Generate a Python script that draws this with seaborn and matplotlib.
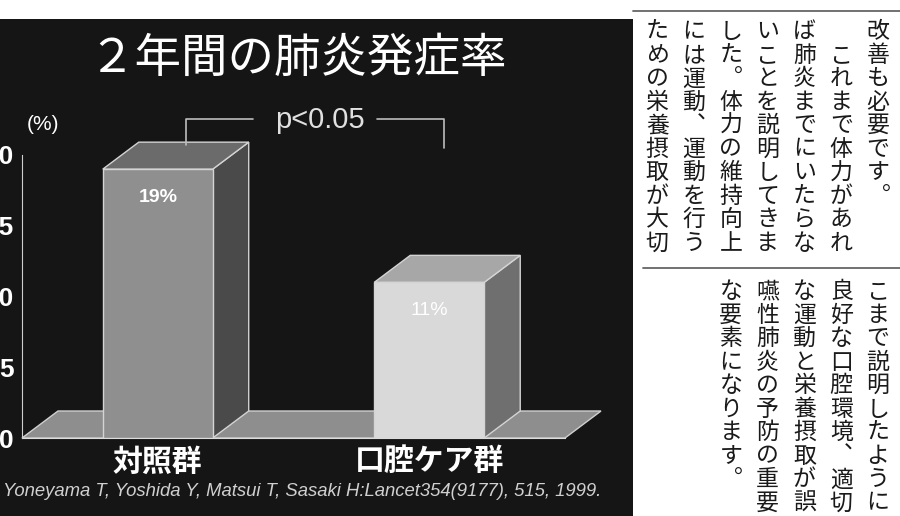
import matplotlib
matplotlib.use("Agg")
import matplotlib.pyplot as plt
from matplotlib.patches import Polygon, Rectangle
from matplotlib.lines import Line2D
import seaborn as sns
import pandas as pd

# chart data
groups = ["対照群", "口腔ケア群"]
rates = [19, 11]
rate_labels = ["19%", "11%"]
y_ticks = [0, 5, 10, 15, 20]
title = "２年間の肺炎発症率"
p_text = "p<0.05"
unit_text = "(%)"
citation = "Yoneyama T, Yoshida Y, Matsui T, Sasaki H:Lancet354(9177), 515, 1999."

# newspaper text beside the chart (vertical, right to left)
text_top = [
    "改善も必要です。",
    "　これまで体力があれ",
    "ば肺炎までにいたらな",
    "いことを説明してきま",
    "した。体力の維持向上",
    "には運動、運動を行う",
    "ための栄養摂取が大切",
]
text_bottom = [
    "こまで説明したように",
    "良好な口腔環境、適切",
    "な運動と栄養摂取が誤",
    "嚥性肺炎の予防の重要",
    "な要素になります。",
]

front_colors = ["#8f8f8f", "#d9d9d9"]
top_colors = ["#6b6b6b", "#a7a7a7"]
side_colors = ["#4a4a4a", "#6f6f6f"]
label_weights = ["bold", "normal"]

W, H = 900, 516
CJK = ["Noto Sans CJK JP", "DejaVu Sans"]
LAT = ["Liberation Sans", "DejaVu Sans"]
VERT = {"。": "︒", "、": "︑"}

sns.set_style("white")
plt.rcParams["font.family"] = LAT


def fx(x):
    return x / W


def fy(y):
    return 1 - y / H


fig = plt.figure(figsize=(W / 100, H / 100), dpi=100)
fig.patch.set_facecolor("white")

# dark slide panel
fig.add_artist(Rectangle((0, 0), fx(633), 1 - 19 / H, transform=fig.transFigure,
                         facecolor="#151515", edgecolor="none", zorder=0))

ax = fig.add_axes([fx(22), 78 / H, 543 / W, 283 / H])
ax.set_facecolor("none")

df = pd.DataFrame({"group": groups, "rate": rates})
sns.barplot(data=df, x="group", y="rate", hue="group", palette=front_colors,
            width=0.405, saturation=1, legend=False, ax=ax,
            edgecolor="#d4d4d4", linewidth=1)
ax.set_xlim(-0.5, 1.5)
ax.set_ylim(0, 20)
ax.set_xlabel("")
ax.set_ylabel("")

# depth of the 3d look, 36px right and 27px up
dx = 36 * 2.0 / 543
dy = 27 * 20.0 / 283

floor = Polygon([(-0.5, 0), (1.5, 0), (1.5 + dx, dy), (-0.5 + dx, dy)],
                closed=True, facecolor="#8e8e8e", edgecolor="#d0d0d0",
                linewidth=1, zorder=1, clip_on=False)
ax.add_patch(floor)

for i, p in enumerate(ax.patches[:len(rates)]):
    x0, w, h = p.get_x(), p.get_width(), p.get_height()
    p.set_zorder(3)
    side = Polygon([(x0 + w, 0), (x0 + w + dx, dy), (x0 + w + dx, h + dy), (x0 + w, h)],
                   closed=True, facecolor=side_colors[i], edgecolor="#d4d4d4",
                   linewidth=1, zorder=2, clip_on=False)
    top = Polygon([(x0, h), (x0 + w, h), (x0 + w + dx, h + dy), (x0 + dx, h + dy)],
                  closed=True, facecolor=top_colors[i], edgecolor="#d4d4d4",
                  linewidth=1, zorder=2, clip_on=False)
    ax.add_patch(side)
    ax.add_patch(top)
    ax.text(x0 + w / 2, h - 2.0, rate_labels[i], ha="center", va="center",
            color="white", fontsize=14, fontweight=label_weights[i], zorder=4)

for s in ["top", "right"]:
    ax.spines[s].set_visible(False)
ax.spines["left"].set_color("#cfcfcf")
ax.spines["bottom"].set_color("#dcdcdc")
ax.spines["left"].set_zorder(5)

ax.set_yticks(y_ticks)
ax.tick_params(axis="y", direction="in", length=5, color="#cfcfcf",
               labelcolor="white", labelsize=19, pad=6)
for lab in ax.get_yticklabels():
    lab.set_fontweight("bold")

ax.set_xticks(range(len(groups)))
ax.set_xticklabels(groups)
ax.tick_params(axis="x", length=0, pad=6, labelsize=21.5, labelcolor="white")
for lab in ax.get_xticklabels():
    lab.set_fontweight("bold")
    lab.set_family(CJK)
ax.set_xticks([-0.5, 0.5, 1.5], minor=True)
ax.tick_params(axis="x", which="minor", direction="in", length=4, color="#dcdcdc")

# significance bracket
bk = "#bdbdbd"
ax.plot([0.105, 0.105, 0.35], [20.7, 22.55, 22.55], color=bk, lw=1.2, clip_on=False)
ax.plot([0.808, 1.055, 1.055], [22.55, 22.55, 20.5], color=bk, lw=1.2, clip_on=False)
ax.text(0.596, 22.5, p_text, ha="center", va="center", fontsize=21,
        color="#e0e0e0")

fig.text(fx(298), fy(59), title, ha="center", va="center", fontsize=33.5,
         color="white", family=CJK)
fig.text(fx(43), fy(125), unit_text, ha="center", va="center", fontsize=15,
         color="white")
fig.text(fx(601), fy(491), citation, ha="right", va="center", fontsize=13.3,
         color="#d0d0d0", style="italic")

# newspaper columns
fig.add_artist(Line2D([fx(633), 1], [fy(11), fy(11)], transform=fig.transFigure,
                      color="#666666", lw=1.3))
fig.add_artist(Line2D([fx(643), 1], [fy(268), fy(268)], transform=fig.transFigure,
                      color="#666666", lw=1.3))


def vertical_block(columns, top_px, x_right=878, step=36.8, pitch=23.5):
    for j, col in enumerate(columns):
        x = x_right - j * step
        for i, ch in enumerate(col):
            ch = VERT.get(ch, ch)
            fig.text(fx(x), fy(top_px + pitch * (i + 0.5)), ch, ha="center",
                     va="center", fontsize=16.5, color="#1a1a1a", family=CJK)


vertical_block(text_top, 20)
vertical_block(text_bottom, 280)

fig.savefig("out.png", dpi=100)
